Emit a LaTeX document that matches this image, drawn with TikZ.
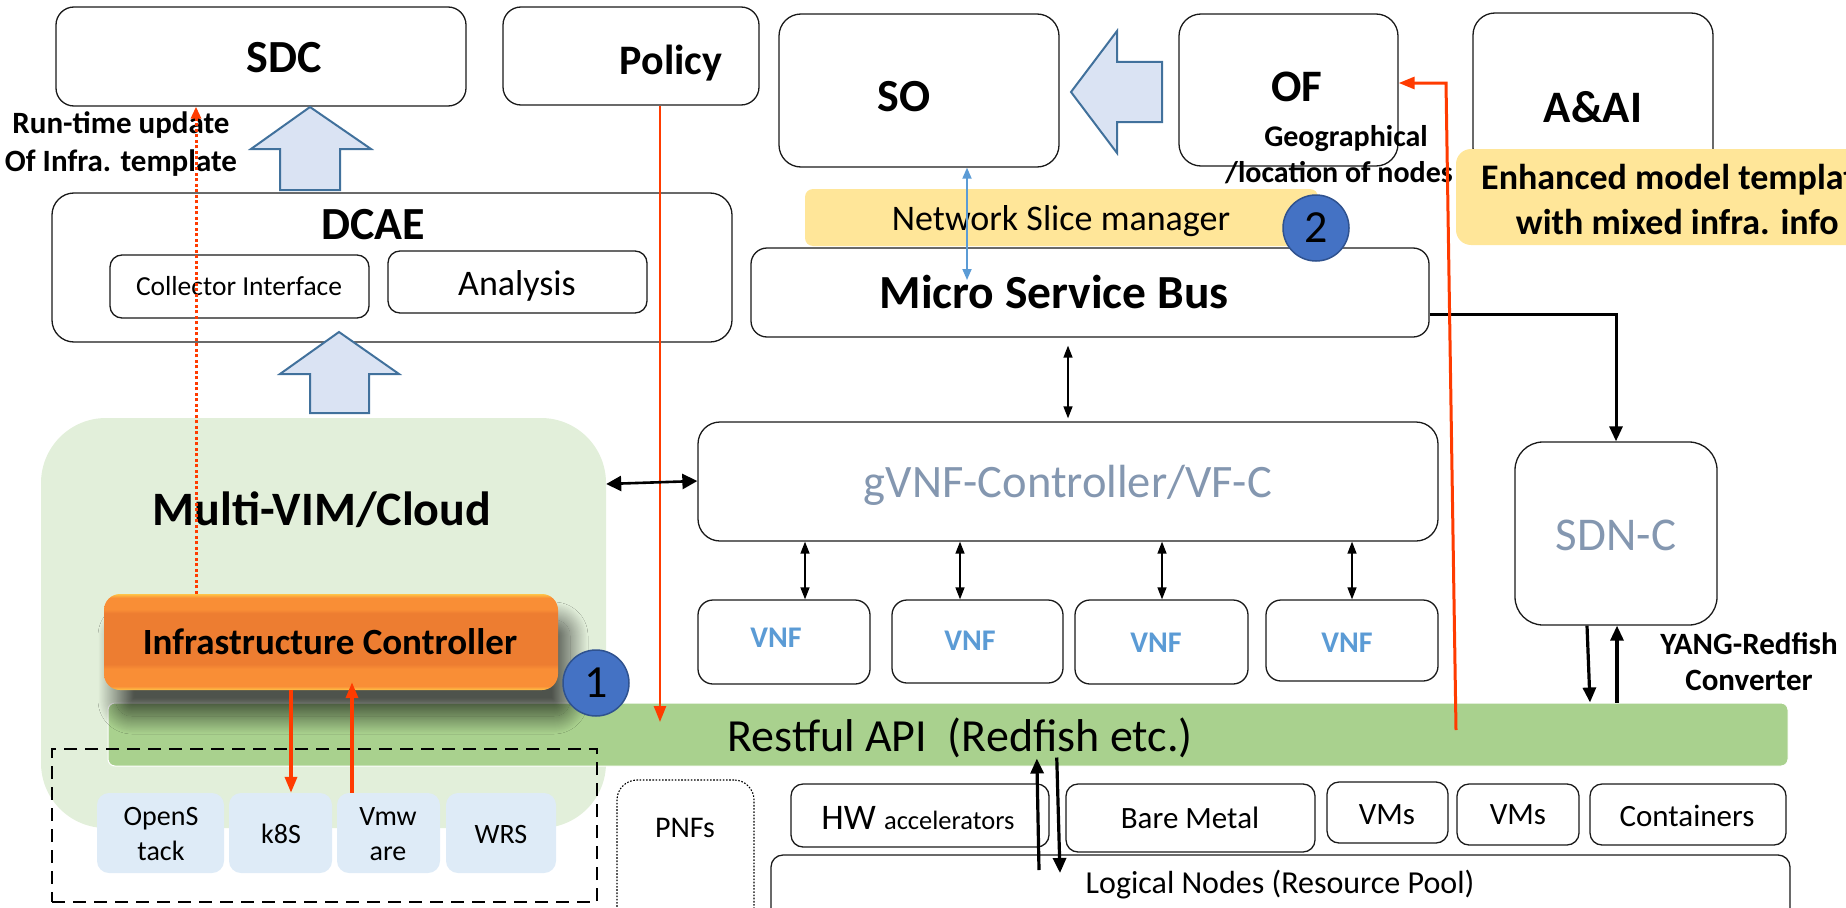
\documentclass[tikz,border=0pt]{standalone}
\usepackage{fontspec}
\setmainfont{Carlito}
\usetikzlibrary{arrows.meta,shadows.blur,calc}

\definecolor{lineblack}{HTML}{1A1A1A}
\definecolor{blockfill}{HTML}{DAE3F3}
\definecolor{blockedge}{HTML}{41719C}
\definecolor{cloudgreen}{HTML}{E2EFDA}
\definecolor{apigreen}{HTML}{A9D18E}
\definecolor{noteyellow}{HTML}{FFE699}
\definecolor{vimblue}{HTML}{DEEBF7}
\definecolor{badgeblue}{HTML}{4472C4}
\definecolor{badgeedge}{HTML}{2F528F}
\definecolor{ctrlgrey}{HTML}{8497B0}
\definecolor{vnfblue}{HTML}{5B9BD5}
\definecolor{flowred}{HTML}{FF3B00}
\definecolor{icorange}{HTML}{ED7D31}
\definecolor{iclight}{HTML}{F98E36}
\definecolor{icedge}{HTML}{FFC447}

% bevelled orange fill of the infrastructure controller (bottom to top)
\pgfdeclareverticalshading{icbevel}{100bp}{color(0bp)=(icedge); color(25bp)=(icedge);
  color(27bp)=(iclight); color(36bp)=(iclight); color(38.5bp)=(icorange);
  color(65bp)=(icorange); color(67bp)=(iclight); color(73bp)=(iclight);
  color(75bp)=(icedge); color(100bp)=(icedge)}

\tikzset{
  lbl/.code={\pgfmathsetmacro\lblcap{0.644*#1}%
    \tikzset{font=\fontsize{#1}{#1}\selectfont, inner sep=0pt, text height=\lblcap pt, text depth=0pt}},
  blbl/.code={\pgfmathsetmacro\lblcap{0.644*#1}%
    \tikzset{font=\fontsize{#1}{#1}\selectfont\bfseries, inner sep=0pt, text height=\lblcap pt, text depth=0pt}},
  box/.style={draw=lineblack, line width=1.3pt, rounded corners=16pt, fill=white, inner sep=0pt},
  resbox/.style={box, rounded corners=12pt},
  vimbox/.style={fill=vimblue, rounded corners=12pt, inner sep=0pt, minimum height=80pt},
  note/.style={fill=noteyellow, inner sep=0pt},
  badge/.style={circle, fill=badgeblue, draw=badgeedge, line width=1.5pt, minimum size=66pt,
    inner sep=0pt, font=\fontsize{46}{46}\selectfont},
  blockarrow/.style={fill=blockfill, draw=blockedge, line width=2pt, line join=miter},
  redflow/.style={draw=flowred, line width=2.8pt, -{Triangle[length=16pt,width=12pt]}},
  reddot/.style={draw=flowred, line width=3pt, dash pattern=on 3pt off 2.5pt,
    -{Triangle[length=12pt,width=10pt]}},
  thinlink/.style={draw=black, line width=1.5pt, {Triangle[length=12pt,width=9pt]}-{Triangle[length=12pt,width=9pt]}},
  widelink/.style={draw=black, line width=2.6pt, {Triangle[length=15pt,width=15pt]}-{Triangle[length=15pt,width=15pt]}},
  heavylink/.style={draw=black, line width=3.2pt, -{Triangle[length=15pt,width=13pt]}},
  bluelink/.style={draw=vnfblue, line width=1.8pt, {Triangle[length=11pt,width=9pt]}-{Triangle[length=11pt,width=9pt]}},
}

\begin{document}
\begin{tikzpicture}[x=1pt,y=-1pt]
\useasboundingbox (0,0) rectangle (1846,907);
\clip (0,0) rectangle (1846,907);

% ---------------- top row ----------------
\node[box, rounded corners=18pt, minimum width=410pt, minimum height=99pt] (sdc) at (261,56.5) {};
\node[blbl=46] (sdcL) at (284,58) {SDC};
\node[box, rounded corners=18pt, minimum width=256pt, minimum height=98pt] (policy) at (631,56) {};
\node[blbl=42] (policyL) at (671,61) {Policy};
\node[box, rounded corners=22pt, minimum width=280pt, minimum height=153pt] (so) at (919,90.5) {};
\node[blbl=46] (soL) at (904,97) {SO};
\node[box, rounded corners=22pt, minimum width=219pt, minimum height=152pt] (of) at (1288.5,90) {};
\node[blbl=45] (ofL) at (1297,87) {OF};
\node[blbl=30] (geoL) at (1346,137) {Geographical};
\node[blbl=30] (locL) at (1339,173) {/location of nodes};
\node[box, rounded corners=22pt, minimum width=240pt, minimum height=157pt] (aai) at (1593,91.5) {};
\node[blbl=45] (aaiL) at (1593,108) {A\&AI};

% OF feeds SO
\filldraw[blockarrow] (1071,92) -- (1117,31) -- (1117,62) -- (1162,62) -- (1162,122)
  -- (1117,122) -- (1117,153) -- cycle;

% model template note
\node[note, rounded corners=15pt, minimum width=444pt, minimum height=96pt] (tmpl) at (1678,197) {};
\node[font=\fontsize{36}{45}\selectfont\bfseries, align=center, inner sep=0pt, anchor=west]
  (tmplL) at (1481,199.5) {Enhanced model template\\with mixed infra. info};

% ---------------- DCAE ----------------
\filldraw[blockarrow] (310,107) -- (371,149) -- (340,149) -- (340,190) -- (280,190)
  -- (280,149) -- (251,149) -- cycle;
\node[box, rounded corners=22pt, minimum width=680pt, minimum height=149pt] (dcae) at (392,267.5) {};
\node[blbl=46] (dcaeL) at (373,225) {DCAE};
\node[resbox, minimum width=259pt, minimum height=63pt] (coll) at (239.5,286.5) {};
\node[lbl=27.5] (collL) at (239,287) {Collector Interface};
\node[resbox, minimum width=259pt, minimum height=62pt] (ana) at (517.5,282) {};
\node[lbl=36] (anaL) at (517,284) {Analysis};
\filldraw[blockarrow] (339,332) -- (399,374) -- (369,374) -- (369,413) -- (310,413)
  -- (310,374) -- (280,374) -- cycle;

\node[font=\fontsize{31}{38}\selectfont\bfseries, align=center, inner sep=0pt]
  (rtL) at (121,144) {Run-time update\\Of Infra. template};

% ---------------- service bus ----------------
\node[note, rounded corners=8pt, minimum width=513pt, minimum height=57pt] (nsm) at (1061.5,217.5) {};
\node[lbl=36] (nsmL) at (1061,219) {Network Slice manager};
\node[box, rounded corners=16pt, minimum width=678pt, minimum height=89pt] (msb) at (1090,292.5) {};
\node[blbl=47.5] (msbL) at (1054,293) {Micro Service Bus};
\node[badge] (b2) at (1316,228) {2};
\coordinate (msbtap) at (967,280);
\draw[bluelink] (so.south -| msbtap) -- (msbtap);

% ---------------- multi-VIM ----------------
\node[fill=cloudgreen, rounded corners=65pt, minimum width=565pt, minimum height=410pt, inner sep=0pt]
  (vim) at (323.5,623) {};
\node[blbl=48] (vimL) at (322,510) {Multi-VIM/Cloud};

\node[fill=apigreen, draw=white, line width=1pt, rounded corners=7pt, minimum width=1680pt,
  minimum height=63pt, inner sep=0pt] (api) at (948,734.5) {};
\node[lbl=46] (apiL) at (960,737) {Restful API\ \ (Redfish etc.)};

\node[shade, shading=icbevel, rounded corners=16pt, minimum width=454pt, minimum height=96pt,
  inner sep=0pt, blur shadow={shadow xshift=12pt, shadow yshift=-26pt, shadow blur radius=18pt,
  shadow blur steps=36, shadow opacity=65}] (ic) at (331,642) {};
\node[blbl=37] (icL) at (330,643) {Infrastructure Controller};
\node[badge] (b1) at (596,683) {1};

\node[draw=black, line width=2pt, dash pattern=on 13pt off 8pt, minimum width=545pt,
  minimum height=153pt, inner sep=0pt] (vimset) at (324.5,825.5) {};
\node[vimbox, minimum width=127pt] (os) at (160.5,833) {};
\node[vimbox, minimum width=103pt] (k8s) at (280.5,833) {};
\node[vimbox, minimum width=103pt] (vmw) at (388.5,833) {};
\node[vimbox, minimum width=110pt] (wrs) at (501,833) {};
\node[font=\fontsize{28}{35}\selectfont, align=center, inner sep=0pt] (osL) at (161,834) {OpenS\\tack};
\node[lbl=28] (k8sL) at (281,834) {k8S};
\node[font=\fontsize{28}{35}\selectfont, align=center, inner sep=0pt] (vmwL) at (388,834) {Vmw\\are};
\node[lbl=28] (wrsL) at (501,834) {WRS};

\node[draw=black, line width=1.1pt, dash pattern=on 1.6pt off 1.6pt, rounded corners=20pt,
  minimum width=137pt, minimum height=160pt, inner sep=0pt] (pnf) at (685.5,860) {};
\node[lbl=30] (pnfL) at (685,828) {PNFs};

% ---------------- controllers and VNFs ----------------
\node[box, rounded corners=22pt, minimum width=740pt, minimum height=119pt] (gvnf) at (1068,481.5) {};
\node[lbl=46.5, text=ctrlgrey] (gvnfL) at (1068,483) {gVNF-Controller/VF-C};
\node[box, rounded corners=15pt, minimum width=172pt, minimum height=84pt] (vnf1) at (784,642) {};
\node[box, rounded corners=15pt, minimum width=171pt, minimum height=83pt] (vnf2) at (977.5,641.5) {};
\node[box, rounded corners=15pt, minimum width=173pt, minimum height=84pt] (vnf3) at (1161.5,642) {};
\node[box, rounded corners=15pt, minimum width=172pt, minimum height=81pt] (vnf4) at (1352,640.5) {};
\node[blbl=30, text=vnfblue] (vnf1L) at (776,638) {VNF};
\node[blbl=30, text=vnfblue] (vnf2L) at (970,641) {VNF};
\node[blbl=30, text=vnfblue] (vnf3L) at (1156,643) {VNF};
\node[blbl=30, text=vnfblue] (vnf4L) at (1347,643) {VNF};

\node[box, rounded corners=28pt, minimum width=202pt, minimum height=183pt] (sdnc) at (1616,533.5) {};
\node[lbl=47, text=ctrlgrey] (sdncL) at (1616,535) {SDN-C};
\node[font=\fontsize{31}{36}\selectfont\bfseries, align=center, inner sep=0pt]
  (yangL) at (1749,662) {YANG-Redfish\\Converter};

% ---------------- resource pool ----------------
\node[resbox, minimum width=258pt, minimum height=63pt] (hw) at (920,815.5) {};
\node[inner sep=0pt, font=\fontsize{36}{36}\selectfont, text height=23pt, text depth=0pt]
  (hwL) at (918,818) {HW {\fontsize{26.5}{26.5}\selectfont accelerators}};
\node[resbox, minimum width=249pt, minimum height=68pt] (bare) at (1190.5,818) {};
\node[lbl=31] (bareL) at (1190,819) {Bare Metal};
\node[resbox, minimum width=121pt, minimum height=61pt] (vms1) at (1387.5,812.5) {};
\node[lbl=31] (vms1L) at (1387,815) {VMs};
\node[resbox, minimum width=122pt, minimum height=61pt] (vms2) at (1518,814.5) {};
\node[lbl=31] (vms2L) at (1518,815) {VMs};
\node[resbox, minimum width=196pt, minimum height=61pt] (cont) at (1688,814.5) {};
\node[lbl=31] (contL) at (1687,817) {Containers};
\node[resbox, minimum width=1019pt, minimum height=94pt] (pool) at (1280.5,902) {};
\node[lbl=32] (poolL) at (1280,883) {Logical Nodes (Resource Pool)};

% ---------------- connectors ----------------
\coordinate (polin) at (660,722);
\draw[redflow, line width=2.5pt] (policy.south -| polin) -- (polin);
\draw[reddot] (ic.north -| 196,0) -- (sdc.south -| 196,0);
\draw[redflow, line width=3.5pt] (ic.south -| 291,0) -- (k8s.north -| 291,0);
\draw[redflow, line width=3.5pt, shorten >=-8pt] (vmw.north -| 352,0) -- (ic.south -| 352,0);

\draw[widelink] (vim.east |- 0,484) -- (gvnf.west |- 0,481);
\draw[thinlink, shorten <=8pt, shorten >=3pt] (msb.south -| 1068,0) -- (gvnf.north -| 1068,0);
\draw[thinlink] (gvnf.south -| 805,0) -- (vnf1.north -| 805,0);
\draw[thinlink] (gvnf.south -| 960,0) -- (vnf2.north -| 960,0);
\draw[thinlink] (gvnf.south -| 1162,0) -- (vnf3.north -| 1162,0);
\draw[thinlink] (gvnf.south -| 1352,0) -- (vnf4.north -| 1352,0);

\draw[heavylink, line width=3pt] (msb.east |- 0,314) -| (sdnc.north);
\draw[heavylink] (sdnc.south -| 1587,0) -- (api.north -| 1590,0);
\draw[heavylink] (api.north -| 1617,0) -- (sdnc.south -| 1617,0);

\coordinate (poolup) at (1039,870);
\coordinate (pooldown) at (1060,873);
\draw[heavylink, shorten >=-8pt] (poolup) -- (api.south -| 1037,0);
\draw[heavylink, shorten <=-9pt] (api.south -| 1057,0) -- (pooldown);

\coordinate (apiof) at (1456,730);
\coordinate (ofbend) at (1446,83);
\draw[redflow, line width=3pt] (apiof) -- (ofbend) -- (of.east |- ofbend);
\end{tikzpicture}
\end{document}
